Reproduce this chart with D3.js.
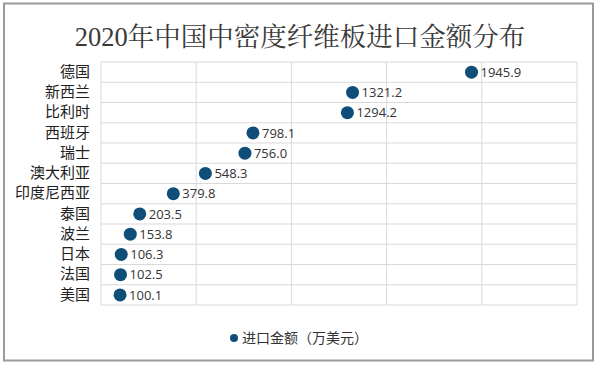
<!DOCTYPE html>
<html><head><meta charset="utf-8">
<script src="https://cdn.jsdelivr.net/npm/d3@7"></script>
<style>body{margin:0;background:#fff}svg{display:block}</style>
</head><body>
<script>
const categories = ["德国","新西兰","比利时","西班牙","瑞士","澳大利亚","印度尼西亚","泰国","波兰","日本","法国","美国"];
const values = [1945.9,1321.2,1294.2,798.1,756.0,548.3,379.8,203.5,153.8,106.3,102.5,100.1];
const xTicks = [0,500,1000,1500,2000,2500];
const seriesName = "进口金额（万美元）";
const title = "2020年中国中密度纤维板进口金额分布";

const W = 599, H = 365;
const svg = d3.select("body").append("svg").attr("width", W).attr("height", H);
svg.append("rect").attr("x",0).attr("y",0).attr("width",W).attr("height",H).attr("fill","#fff");
svg.append("rect").attr("x",4).attr("y",3.5).attr("width",589).attr("height",357)
  .attr("fill","#fff").attr("stroke","#9a9a9a").attr("stroke-width",2);

const m = {left:101, right:577, top:62, bottom:305};
const x = d3.scaleLinear().domain([0,2500]).range([m.left,m.right]);
const y = d3.scaleBand().domain(categories).range([m.top,m.bottom]);

svg.append("text").attr("x",300).attr("y",46).attr("text-anchor","middle")
  .attr("font-family","'Liberation Serif','Noto Serif CJK SC','Noto Sans CJK SC',serif")
  .attr("font-size",26.5).attr("fill","#3a3a3a").text(title);

const g = svg.append("g");
g.selectAll("line.v").data(xTicks).join("line")
  .attr("x1",d=>x(d)).attr("x2",d=>x(d)).attr("y1",m.top).attr("y2",m.bottom)
  .attr("stroke","#d9d9d9").attr("stroke-width",1);
const bounds = categories.map(c=>y(c)).concat([m.bottom]);
g.selectAll("line.h").data(bounds).join("line")
  .attr("x1",m.left).attr("x2",m.right).attr("y1",d=>d).attr("y2",d=>d)
  .attr("stroke","#d9d9d9").attr("stroke-width",1);

const yAxis = d3.axisLeft(y).tickSize(0).tickPadding(11);
const ya = svg.append("g").attr("transform",`translate(${m.left},0)`).call(yAxis);
ya.select(".domain").remove();
ya.selectAll("text").attr("font-family","'Noto Sans CJK SC',sans-serif").attr("font-size",15).attr("fill","#222");

svg.selectAll("circle.pt").data(values).join("circle")
  .attr("cx",d=>x(d)).attr("cy",(d,i)=>y(categories[i])+y.bandwidth()/2)
  .attr("r",6.5).attr("fill","#0e4e78");
svg.selectAll("text.lbl").data(values).join("text")
  .attr("x",d=>x(d)+9).attr("y",(d,i)=>y(categories[i])+y.bandwidth()/2)
  .attr("dy","0.36em").attr("font-family","'Open Sans','Noto Sans',sans-serif")
  .attr("font-size",13).attr("fill","#333").text(d=>d.toFixed(1));

svg.append("circle").attr("cx",234).attr("cy",338).attr("r",4).attr("fill","#0e4e78");
svg.append("text").attr("x",242).attr("y",338).attr("dy","0.35em")
  .attr("font-family","'Noto Sans CJK SC',sans-serif").attr("font-size",14).attr("fill","#333").text(seriesName);
</script>
</body></html>
